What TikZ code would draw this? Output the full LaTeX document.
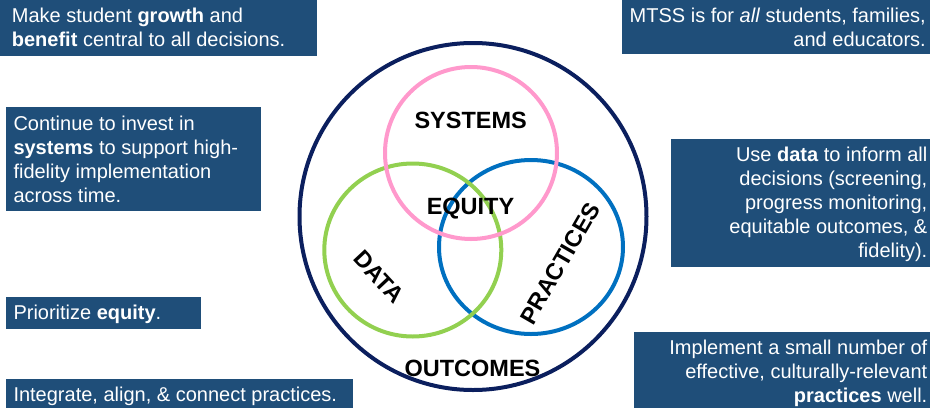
\documentclass[tikz,border=0pt]{standalone}
\usepackage{fontspec}
\setmainfont{Liberation Sans}
\definecolor{boxblue}{HTML}{1F4E79}
\definecolor{navyring}{HTML}{0B1F5E}
\definecolor{pinkring}{HTML}{FF99CC}
\definecolor{greenring}{HTML}{92D050}
\definecolor{bluering}{HTML}{0070C0}
\tikzset{
  boxbg/.style={fill=boxblue, draw=none, inner sep=0pt, anchor=north west},
  boxtxt/.style={text=white, inner sep=0pt, font=\fontsize{20}{24}\selectfont},
  ltxt/.style={boxtxt, anchor=base west},
  rtxt/.style={boxtxt, anchor=base east},
  ring/.style={line width=4pt},
  vlabel/.style={font=\fontsize{23.5}{28}\selectfont\bfseries, inner sep=0pt, text=black},
}
\begin{document}
\begin{tikzpicture}[x=1pt,y=-1pt]
\useasboundingbox (0,0) rectangle (930,408);

% boxes
\node[boxbg, minimum width=317pt, minimum height=56pt] (b1) at (0,0) {};
\node[boxbg, minimum width=255.5pt, minimum height=104pt] (b2) at (5.5,106.5) {};
\node[boxbg, minimum width=195pt, minimum height=32pt] (b3) at (5.5,296.5) {};
\node[boxbg, minimum width=347.5pt, minimum height=29pt] (b4) at (5.5,379) {};
\node[boxbg, minimum width=308pt, minimum height=54pt] (b5) at (622,0) {};
\node[boxbg, minimum width=259pt, minimum height=128pt] (b6) at (671,139) {};
\node[boxbg, minimum width=296pt, minimum height=76pt] (b7) at (634,332) {};

% box texts, left
\node[ltxt] (t1a) at (11.7,22.7) {Make student \textbf{growth} and};
\node[ltxt] (t1b) at (11.7,46.7) {\textbf{benefit} central to all decisions.};

\node[ltxt] (t2a) at (13.3,130) {Continue to invest in};
\node[ltxt] (t2b) at (13.3,154) {\textbf{systems} to support high-};
\node[ltxt] (t2c) at (13.3,178) {fidelity implementation};
\node[ltxt] (t2d) at (13.3,202) {across time.};

\node[ltxt] (t3a) at (13.3,319.5) {Prioritize \textbf{equity}.};

\node[ltxt] (t4a) at (13.3,401.7) {Integrate, align, \& connect practices.};

% box texts, right
\node[rtxt] (t5a) at (926,22.7) {MTSS is for \textit{all} students, families,};
\node[rtxt] (t5b) at (926,46.5) {and educators.};

\node[rtxt] (t6a) at (927.5,161.5) {Use \textbf{data} to inform all};
\node[rtxt] (t6b) at (927.5,185.5) {decisions (screening,};
\node[rtxt] (t6c) at (927.5,209.5) {progress monitoring,};
\node[rtxt] (t6d) at (927.5,233.5) {equitable outcomes, \&};
\node[rtxt] (t6e) at (927.5,257.5) {fidelity).};

\node[rtxt] (t7a) at (927.5,354) {Implement a small number of};
\node[rtxt] (t7b) at (927.5,378) {effective, culturally-relevant};
\node[rtxt] (t7c) at (927.5,402.5) {\textbf{practices} well.};

% rings
\draw[ring, navyring] (473,216.5) circle [radius=173.5pt];
\draw[ring, bluering] (531,247) ellipse [x radius=92pt, y radius=87pt];
\draw[ring, greenring] (412.8,250) ellipse [x radius=88.5pt, y radius=86.5pt];
\draw[ring, pinkring] (471,153) circle [radius=86pt];

% labels
\node[vlabel] (systems) at (470.7,120) {SYSTEMS};
\node[vlabel] (equity) at (470.5,209) {EQUITY};
\node[vlabel, rotate=-47] (data) at (379,277) {DATA};
\node[vlabel, rotate=60] (practices) at (560,263.3) {PRACTICES};
\node[vlabel] (outcomes) at (472.5,368.3) {OUTCOMES};
\end{tikzpicture}
\end{document}
